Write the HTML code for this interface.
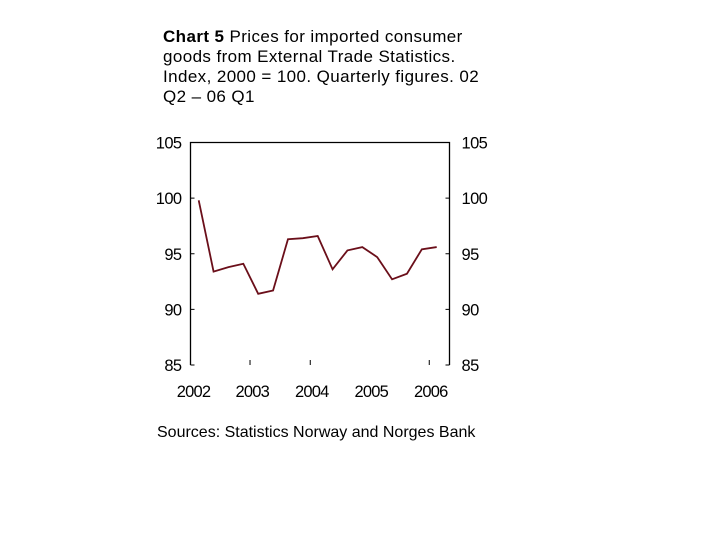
<!DOCTYPE html>
<html><head><meta charset="utf-8"><style>
body{margin:0;background:#fff;width:720px;height:540px;overflow:hidden;font-family:"Liberation Sans",Arial,sans-serif}
#title{position:absolute;left:163px;top:27px;font-size:17px;letter-spacing:0.4px;line-height:20px;color:#000;width:322px}
#src{position:absolute;left:157px;top:424px;font-size:16px;color:#000;white-space:nowrap}
svg{position:absolute;left:0;top:0}
</style></head><body>
<div id="title"><b>Chart 5</b> Prices for imported consumer goods from External Trade Statistics. Index, 2000 = 100. Quarterly figures. 02 Q2 – 06 Q1</div>
<svg id="chart" width="720" height="540"></svg>
<div id="src">Sources: Statistics Norway and Norges Bank</div>
<script>
const values=[99.8,93.4,93.8,94.1,91.4,91.7,96.3,96.4,96.6,93.6,95.3,95.6,94.7,92.7,93.2,95.4,95.6];
const yTicks=[85,90,95,100,105];
const years=["2002","2003","2004","2005","2006"];
const yearPos=[-0.35,3.6,7.6,11.6,15.6];
const tickIdx=[3.45,7.5,15.5];
const NS="http://www.w3.org/2000/svg";
const svg=document.getElementById('chart');
const L=190.5,R=449.5,T=142.5,B=365;
const y=v=>B-(v-85)/20*(B-T);
const x=i=>198.7+i*14.875;
function mk(t,a){const e=document.createElementNS(NS,t);for(const k in a)e.setAttribute(k,a[k]);svg.appendChild(e);return e;}
let ax=mk('path',{d:`M${L},${B} V${T} H${R} V${B}`,fill:'none',stroke:'#000','stroke-width':1.3});


yTicks.forEach(v=>{
 let t1=mk('line',{x1:L,x2:L+4,y1:y(v),y2:y(v),stroke:'#000'});
 
 
 let t2=mk('line',{x1:R-4,x2:R,y1:y(v),y2:y(v),stroke:'#000'});
 
 
 let a=mk('text',{x:L-9,y:y(v)+6,'text-anchor':'end','font-size':16.5,'letter-spacing':'-0.6'});a.textContent=v;
 
 
 let b=mk('text',{x:R+12,y:y(v)+6,'font-size':16.5,'letter-spacing':'-0.6'});b.textContent=v;
 
 
});
tickIdx.forEach(i=>{
 let t=mk('line',{x1:x(i),x2:x(i),y1:B-5,y2:B,stroke:'#000'});
 
 
});
years.forEach((yr,k)=>{
 let t=mk('text',{x:x(yearPos[k]),y:397,'text-anchor':'middle','font-size':16.5,'letter-spacing':'-0.8'});t.textContent=yr;
 
 
});
let p=mk('polyline',{points:values.map((v,i)=>x(i)+','+y(v)).join(' '),fill:'none',stroke:'#6b0f1a','stroke-width':1.8});


</script>
</body></html>
